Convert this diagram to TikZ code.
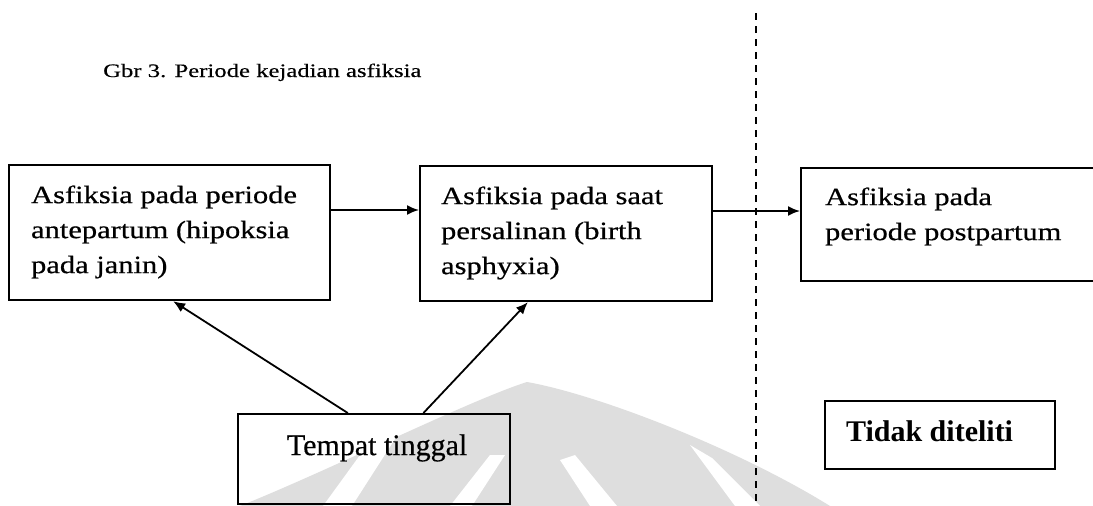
\documentclass[tikz,border=0pt]{standalone}
\usepackage{fontspec}
\setmainfont{Liberation Serif}
\newfontfamily\boxfont[FakeStretch=1.22,FakeBold=0.6]{Liberation Serif}
\newfontfamily\titlefont[FakeStretch=1.3,FakeBold=0.4]{Liberation Serif}
\newfontfamily\plainfont[FakeBold=0.4]{Liberation Serif}
\usetikzlibrary{arrows.meta,calc}
\newcommand\btext[5]{\parbox[c][#2][t]{#1}{\leftskip=#3\relax\boxfont\fontsize{25}{35}\selectfont\rule{0pt}{#4}#5}}
\begin{document}
\begin{tikzpicture}[x=1pt,y=-1pt,
  box/.style={draw, line width=2.2pt, inner sep=0pt, anchor=north west},
  arr/.style={line width=1.8pt, -{Latex[length=12pt,width=10pt]}},
  divider/.style={line width=2.6pt, dash pattern=on 7pt off 6pt},
  wmark/.style={fill=black!13}]
\clip (0,0) rectangle (1093,506);
\fill[white] (0,0) rectangle (1093,506);
% faint watermark
\fill[wmark] (240,506) .. controls (330,470) and (470,400) .. (527,382)
  .. controls (600,395) and (740,450) .. (830,506) -- cycle;
\fill[white] (323,506) -- (352,506) -- (420,400) -- (400,400) -- cycle;
\fill[white] (450,506) -- (472,506) -- (505,455) -- (490,455) -- cycle;
\fill[white] (560,460) -- (575,455) -- (617,506) -- (590,506) -- cycle;
\fill[white] (690,445) -- (712,458) -- (760,506) -- (735,506) -- cycle;
% title
\node[anchor=base west, inner sep=0pt] (title) at (103,77)
  {\titlefont\fontsize{19}{23}\selectfont Gbr 3. Periode kejadian asfiksia};
% boxes
\node[box] (A) at (8,164) {\btext{321pt}{135pt}{22pt}{38pt}{Asfiksia pada periode\\antepartum (hipoksia\\pada janin)}};
\node[box] (B) at (419,165) {\btext{292pt}{135pt}{21pt}{38pt}{Asfiksia pada saat\\persalinan (birth\\asphyxia)}};
\node[box] (C) at (800,167) {\btext{330pt}{113pt}{24pt}{37pt}{Asfiksia pada\\periode postpartum}};
\node[box] (T) at (237,413) {\parbox[c][90pt][t]{272pt}{\centering\leftskip=6pt plus 1fil\plainfont\fontsize{30}{34}\selectfont\rule{0pt}{41pt}Tempat tinggal}};
\node[box] (N) at (824,400) {\parbox[c][68pt][t]{230pt}{\leftskip=21pt\relax\fontsize{30}{34}\selectfont\bfseries\rule{0pt}{40pt}Tidak diteliti}};
% divider
\coordinate (dtop) at (756,13);
\coordinate (dbot) at (756,510);
\draw[divider] (dtop) -- (dbot);
% connectors
\coordinate (yAB) at (0,210);
\coordinate (yBC) at (0,211);
\draw[arr] (A.east |- yAB) -- (B.west |- yAB);
\draw[arr] (B.east |- yBC) -- (C.west |- yBC);
\draw[arr] ($(T.north west)!0.404!(T.north east)$) -- ($(A.south west)!0.511!(A.south east)$);
\draw[arr] ($(T.north west)!0.68!(T.north east)$) -- ($(B.south west)!0.37!(B.south east)$);
\end{tikzpicture}
\end{document}
